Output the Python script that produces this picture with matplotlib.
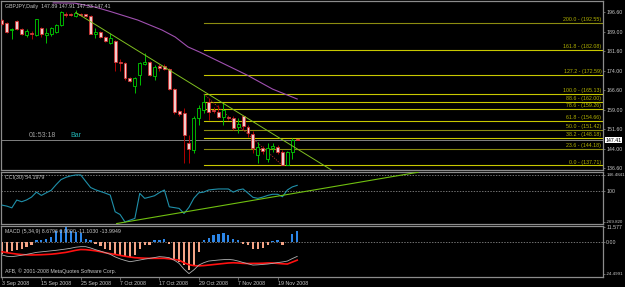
import matplotlib
matplotlib.use("Agg")
import matplotlib.pyplot as plt
from matplotlib.patches import Rectangle

# GBPJPY daily bars, 3 Sep 2008 .. 25 Nov 2008
opens = [193.5, 192.4, 189.7, 193.1, 190.1, 187.8, 188.5, 187.8, 190.5, 187.8,
         188.2, 188.9, 191.6, 195.8, 195.9, 195.1, 195.8, 195.7, 195.1, 188.0,
         188.9, 187.0, 184.7, 185.5, 177.4, 177.0, 171.3, 168.2, 172.4, 176.6,
         177.4, 172.0, 175.9, 175.9, 174.7, 167.0, 158.6, 157.8, 146.3, 143.6,
         155.9, 159.0, 162.1, 159.0, 158.2, 156.3, 156.3, 155.9, 152.5, 156.7,
         152.5, 149.8, 141.7, 144.4, 140.2, 144.4, 144.8, 142.9, 137.9, 142.9,
         147.89]
highs = [193.9, 192.8, 190.3, 193.5, 190.5, 190.1, 189.3, 194.1, 190.8, 190.5,
         190.8, 192.0, 197.0, 196.6, 196.4, 197.4, 196.2, 196.0, 195.5, 190.5,
         189.3, 187.4, 188.5, 185.9, 178.6, 177.4, 171.6, 171.6, 177.4, 180.9,
         177.8, 176.3, 176.6, 176.6, 175.1, 167.4, 159.0, 159.8, 149.4, 156.7,
         160.9, 165.13, 163.6, 160.1, 160.9, 161.7, 156.7, 156.7, 155.9, 157.1,
         153.2, 150.9, 146.7, 145.2, 146.3, 146.3, 145.5, 143.6, 143.2, 148.2,
         147.91]
lows = [191.6, 188.5, 186.2, 189.7, 187.8, 187.0, 186.2, 187.4, 187.0, 184.7,
        187.4, 188.5, 191.2, 194.7, 195.1, 194.7, 195.1, 194.7, 188.0, 186.6,
        186.6, 185.1, 184.3, 174.0, 174.0, 170.5, 169.7, 165.5, 168.6, 176.3,
        172.0, 170.5, 174.0, 174.3, 166.7, 157.4, 156.7, 138.6, 138.6, 142.5,
        153.2, 157.8, 155.1, 157.8, 155.9, 153.2, 155.1, 151.3, 150.2, 151.3,
        148.6, 142.5, 138.6, 142.1, 139.0, 142.9, 142.1, 137.71, 137.8, 140.2,
        147.33]
closes = [192.0, 188.9, 190.1, 190.1, 188.2, 189.3, 188.2, 193.9, 188.2, 188.5,
          190.5, 191.6, 196.6, 195.4, 195.5, 196.2, 195.4, 195.0, 188.2, 188.9,
          187.0, 185.5, 186.6, 177.4, 177.0, 171.3, 170.1, 171.3, 177.0, 177.4,
          172.4, 175.5, 175.1, 174.7, 167.0, 158.2, 157.4, 149.4, 144.0, 155.9,
          159.8, 162.1, 158.2, 158.6, 156.3, 159.0, 155.9, 152.1, 153.6, 152.8,
          150.2, 144.4, 144.8, 143.2, 144.4, 145.2, 142.9, 137.9, 142.9, 147.5,
          147.41]

# moving average, sampled along its path (bar, price)
ma_bar = [10.4, 14.8, 18.9, 22.0, 27.6, 32.5, 35.2, 37.8, 40.2, 49.8, 55.0, 60.0]
ma_val = [200.1, 200.0, 198.5, 196.8, 193.5, 189.7, 187.0, 183.2, 181.2, 172.4, 167.0, 163.2]

# hand-drawn trend line on price (bar, price)
trend_bar = [15, 67]
trend_val = [196.4, 135.9]

fib_pct = ["0.0", "23.6", "38.2", "50.0", "61.8", "78.6", "88.6", "100.0", "127.2", "161.8", "200.0"]
fib_val = [137.71, 144.18, 148.18, 151.42, 154.66, 159.26, 162.00, 165.13, 172.59, 182.08, 192.55]
fib_dim = ["23.6", "50.0", "200.0"]
fib_from = [41, 57]   # anchor bars (high, low)

last_price = 147.41
price_ticks = [196.60, 189.00, 181.60, 174.00, 166.60, 159.00, 151.60, 144.00, 136.60]

cci = [-121, -130, -145, -76, -91, -75, -50, -6, -35, -12,
       10, 60, 105, 125, 138, 146, 146, 90, 35, 15,
       0, -15, -32, -180, -204, -270, -254, -239, -17, -61,
       -50, -38, -10, 13, -136, -143, -150, -195, -140, -60,
       -12, -6, 13, 18, 22, 22, 22, -6, 13, 22,
       -15, -52, -61, -50, -35, -25, -25, -47, 13, 40,
       54]
cci_trend_bar = [23.3, 84.6]
cci_trend_val = [-284, 170]
cci_levels = [146.48, 0]
cci_ticks = [146.48, 0, -269.82]
cci_tick_labels = ["146.4841", "100", "-269.820"]

macd_hist = [-9.0, -7.7, -7.2, -6.4, -5.1, -3.9, -2.1, 1.8, 1.3, 2.6,
             3.9, 8.2, 9.0, 11.577, 8.5, 7.7, 7.2, 2.6, 1.3, -1.3,
             -3.1, -5.1, -6.4, -9.0, -10.3, -10.8, -11.6, -9.8, -5.1, -2.6,
             -2.1, 1.3, 1.8, 2.6, -1.3, -12.9, -15.4, -18.0, -21.9, -17.5,
             -7.7, 1.3, 3.1, 5.1, 6.4, 7.2, 5.1, 2.6, 1.3, -1.3,
             -2.6, -5.1, -5.7, -4.6, -2.6, 0.5, 1.3, -2.6, 0.3, 5.9,
             8.68]
macd_main = [-10.0, -11.0, -11.3, -10.8, -10.2, -9.5, -8.8, -8.0, -7.6, -7.2,
             -6.8, -6.4, -5.9, -5.4, -4.8, -4.0, -3.6, -3.6, -4.6, -5.9,
             -7.0, -8.2, -9.5, -11.5, -13.0, -14.2, -15.2, -14.6, -13.9, -13.2,
             -12.6, -12.0, -11.3, -11.6, -12.1, -14.0, -16.5, -21.0, -24.4, -21.5,
             -17.8, -16.0, -14.7, -14.3, -13.9, -13.6, -13.4, -13.8, -14.7, -15.8,
             -16.8, -17.8, -17.6, -17.3, -17.0, -16.5, -15.9, -15.4, -14.7, -12.8,
             -11.1]
macd_signal = [-7.5, -8.2, -8.8, -9.3, -9.7, -9.9, -10.0, -9.9, -9.8, -9.6,
               -9.4, -9.0, -8.5, -8.0, -7.2, -6.4, -5.8, -5.9, -6.3, -6.8,
               -7.5, -8.3, -9.0, -9.6, -10.3, -11.0, -11.6, -12.1, -12.3, -12.5,
               -12.6, -12.6, -12.6, -12.6, -13.0, -13.5, -14.0, -16.0, -17.5, -18.2,
               -18.4, -18.2, -17.8, -17.4, -17.0, -16.6, -16.2, -16.0, -16.2, -16.5,
               -16.6, -16.5, -16.5, -16.4, -16.2, -16.2, -16.5, -16.8, -17.0, -15.5,
               -14.0]
macd_ticks = [11.577, 0, -24.4991]
macd_tick_labels = ["11.577", "0.00", "-24.4991"]

date_bars = [0, 8, 16, 24, 32, 40, 48, 56]
date_labels = ["3 Sep 2008", "15 Sep 2008", "25 Sep 2008", "7 Oct 2008",
               "17 Oct 2008", "29 Oct 2008", "7 Nov 2008", "19 Nov 2008"]

# ---- layout in pixels of the 625x287 screenshot
W, H = 625, 287
BAR_PX = 4.92


def rect(x0, y0, x1, y1):
    return [x0 / W, 1 - y1 / H, (x1 - x0) / W, (y1 - y0) / H]


FG = "#c8c8c8"
FRAME = "#8c8c8c"
FS = 3.8
plt.rcParams["font.family"] = ["Liberation Sans", "DejaVu Sans"]

fig = plt.figure(figsize=(W / 100, H / 100), dpi=100, facecolor="black")
ax = fig.add_axes(rect(1, 1, 603, 170))
ax_cci = fig.add_axes(rect(1, 172, 603, 224), sharex=ax)
ax_macd = fig.add_axes(rect(1, 226, 603, 277), sharex=ax)

for a in (ax, ax_cci, ax_macd):
    a.set_facecolor("black")
    for s in a.spines.values():
        s.set_color(FRAME)
        s.set_linewidth(0.9)
    a.yaxis.tick_right()
    a.tick_params(axis="y", colors=FRAME, labelcolor=FG, labelsize=FS,
                  length=1.5, width=0.5, pad=0.8)
    a.tick_params(axis="x", colors=FRAME, labelcolor=FG, labelsize=FS,
                  length=2, width=0.5, pad=1)

ax.set_xlim(-1 / BAR_PX, (603 - 2) / BAR_PX)
ax.set_ylim(135.95, 200.82)

# ---- candles
n = len(opens)
for i in range(n):
    o, h, l, c = opens[i], highs[i], lows[i], closes[i]
    up = c > o
    wick = "#00c000" if up else "#b00000"
    ax.vlines(i, l, h, color=wick, lw=0.7, zorder=3)
    bottom, top = min(o, c), max(o, c)
    ht = max(top - bottom, 0.15)
    ax.add_patch(Rectangle((i - 0.3, bottom), 0.6, ht,
                           facecolor="black" if up else "#f0cccc",
                           edgecolor="#00d000" if up else "#d03030",
                           lw=0.6, zorder=4))

ax.plot(ma_bar, ma_val, color="#a050b0", lw=0.8, zorder=2)
ax.plot(trend_bar, trend_val, color="#80c020", lw=0.7, zorder=5)

# fibonacci retracement
for pct, v in zip(fib_pct, fib_val):
    col = "#8c8c10" if pct in fib_dim else "#c8c800"
    ax.plot([fib_from[0], ax.get_xlim()[1]], [v, v], color=col, lw=0.8, zorder=1)
    ax.text(121.8, v + 0.3, f"{pct} - ({v:.2f})", color="#b4b400",
            fontsize=FS, ha="right", va="bottom", zorder=6)
ax.plot([fib_from[0], fib_from[1]], [highs[fib_from[0]], lows[fib_from[1]]],
        color="#c03030", lw=0.6, ls=(0, (1.5, 1.5)), zorder=2)

ax.axhline(last_price, color="#808080", lw=0.7, zorder=1)
ax.set_yticks(price_ticks)
ax.set_yticklabels([f"{p:.2f}" for p in price_ticks])
ax.text(1.004, last_price, f"{last_price:.2f}", transform=ax.get_yaxis_transform(),
        fontsize=FS, color="black", ha="left", va="center",
        bbox=dict(boxstyle="square,pad=0.15", fc="white", ec="none"))

ax.text(4 / 602, 0.966, "GBPJPY,Daily  147.89 147.91 147.33 147.41",
        transform=ax.transAxes, color=FG, fontsize=FS, va="center")
ax.text(5.5, last_price + 0.3, "01:53:18", color="#a0a0a0", fontsize=5.0, va="bottom")
ax.text(13.8, last_price + 0.3, "Bar", color="#20b0b0", fontsize=5.0, va="bottom")
ax.tick_params(axis="x", length=0, labelbottom=False)

# ---- CCI
ax_cci.set_ylim(-288, 172)
ax_cci.plot(range(n), cci, color="#1f90aa", lw=0.8, zorder=3)
ax_cci.plot(cci_trend_bar, cci_trend_val, color="#70c010", lw=0.8, zorder=4)
for lv in cci_levels:
    ax_cci.axhline(lv, color="#a0a0a0", lw=0.5, ls=(0, (2, 2)))
ax_cci.set_yticks(cci_ticks)
ax_cci.set_yticklabels(cci_tick_labels)
ax_cci.text(4 / 602, 0.9, "CCI(30) 54.1979", transform=ax_cci.transAxes,
            color=FG, fontsize=FS, va="center")
ax_cci.tick_params(axis="x", length=0, labelbottom=False)

# ---- MACD
ax_macd.set_ylim(-27.0, 12.35)
xs = list(range(n))
ax_macd.bar(xs, macd_hist, width=0.45,
            color=["#2c86e8" if v >= 0 else "#f4a486" for v in macd_hist], zorder=2)
ax_macd.axhline(0, color="#a0a0a0", lw=0.5, ls=(0, (2, 2)), zorder=1)
ax_macd.plot(xs, macd_signal, color="#ff1010", lw=1.2, zorder=3)
ax_macd.plot(xs, macd_main, color="#b0b0b0", lw=0.6, zorder=4)
ax_macd.set_yticks(macd_ticks)
ax_macd.set_yticklabels(macd_tick_labels)
ax_macd.text(4 / 602, 0.9, "MACD (5,34,9) 8.6796 0.0000 -11.1030 -13.9949",
             transform=ax_macd.transAxes, color=FG, fontsize=FS, va="center")
ax_macd.text(4 / 602, 0.12, "AFB, \u00a9 2001-2008 MetaQuotes Software Corp.",
             transform=ax_macd.transAxes, color=FG, fontsize=FS, va="center")
ax_macd.set_xticks(date_bars)
ax_macd.set_xticklabels(date_labels, ha="left")
ax_macd.tick_params(axis="x", labelbottom=True, length=2)

# the long indicator labels sit at the very right edge: shrink them to fit
for a in (ax_cci, ax_macd):
    for lab in a.get_yticklabels():
        if len(lab.get_text()) > 6:
            lab.set_fontsize(3.2)

fig.savefig("out.png", dpi=100, facecolor="black")
